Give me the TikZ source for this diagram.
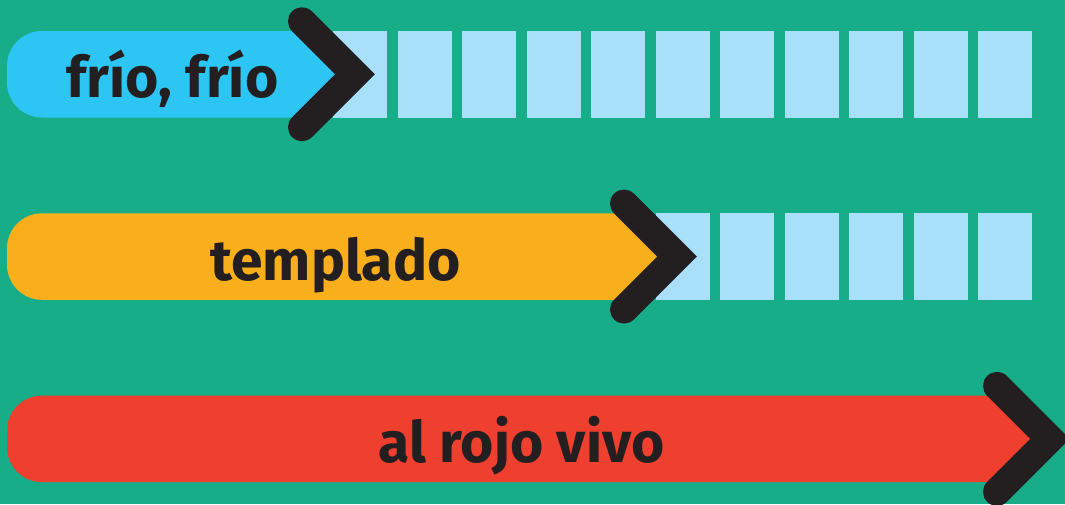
\documentclass[tikz,border=0pt]{standalone}
\usepackage{fontspec}
\setmainfont{Fira Sans}
\definecolor{bg}{HTML}{18AD89}
\definecolor{cold}{HTML}{2DC5F4}
\definecolor{warm}{HTML}{F9AE1B}
\definecolor{hot}{HTML}{EE3F2F}
\definecolor{cell}{HTML}{A9E0F9}
\definecolor{ink}{HTML}{231F20}
\tikzset{
  chev/.style={draw=ink, line width=28pt, line cap=round, line join=miter},
  cellbox/.style={fill=cell},
  lbl/.style={anchor=base, text=ink, font=\bfseries\fontsize{57}{57}\selectfont, inner sep=0pt}
}
\newcommand\mybar[4]{% #1 top y, #2 vertex x, #3 colour, #4 name
  \pgfmathsetmacro\bt{#1}\pgfmathsetmacro\bb{#1+86.5}\pgfmathsetmacro\vy{#1+43.25}
  \coordinate (#4v) at (#2,\vy);
  \coordinate (#4a) at (#2-53,\vy-53);
  \coordinate (#4b) at (#2-53,\vy+53);
  \fill[#3] (#2-43.25,\bt) -- (#4v) -- (#2-43.25,\bb) -- (42,\bb)
     arc[start angle=90,end angle=180,radius=35] -- (7,\bt+35)
     arc[start angle=180,end angle=270,radius=35] -- cycle;
}
\begin{document}
\begin{tikzpicture}[x=1pt,y=-1pt]
\useasboundingbox (0,0) rectangle (1065,504);
\fill[bg] (0,0) rectangle (1065,504);
\clip (0,0) rectangle (1065,504);
% cells
\foreach \k in {0,...,10} { \fill[cellbox] (333+64.5*\k,31) rectangle +(54,86.5); }
\foreach \k in {5,...,10} { \fill[cellbox] (333+64.5*\k,213.3) rectangle +(54,86.5); }
% bars
\mybar{31}{355}{cold}{r1}
\mybar{213.3}{677}{warm}{r2}
\mybar{395.6}{1050}{hot}{r3}
% chevrons
\draw[chev] (r1a) -- (r1v) -- (r1b);
\draw[chev] (r2a) -- (r2v) -- (r2b);
\draw[chev] (r3a) -- (r3v) -- (r3b);
% labels
\node[lbl] (t1) at (172.5,97) {frío, frío};
\node[lbl] (t2) at (335.5,280) {templado};
\node[lbl] (t3) at (521.5,462) {al rojo vivo};
\end{tikzpicture}
\end{document}
